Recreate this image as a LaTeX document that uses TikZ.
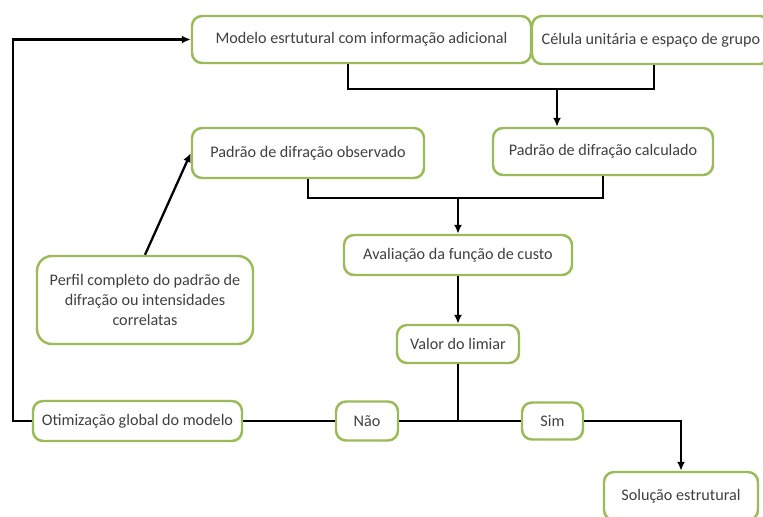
\documentclass[tikz,border=0pt]{standalone}
\usepackage{fontspec}
\setmainfont{Carlito}
\usepackage{xcolor}
\usetikzlibrary{arrows.meta,calc}

\definecolor{boxgreen}{HTML}{9BBB59}
\definecolor{txtgray}{HTML}{404040}

\begin{document}
\begin{tikzpicture}[
    every node/.style={font=\fontsize{9.2}{11.2}\selectfont, text=txtgray},
    box/.style={draw=boxgreen, line width=1.4pt, rounded corners=0.2cm, fill=white, align=center, inner sep=2pt},
    conn/.style={line width=1.3pt, black},
    arr/.style={conn, -{Latex[length=1.8mm,width=1.6mm]}}
  ]
    \useasboundingbox (0,0) rectangle (15.26,10.32);

    % linha de cima
    \node[box, minimum width=6.78cm, minimum height=0.94cm] (modelo) at (7.23,9.53) {Modelo esrtutural com informação adicional};
    \node[box, minimum width=4.76cm, minimum height=0.96cm] (celula) at (13.02,9.52) {Célula unitária e espaço de grupo};

    % padroes
    \node[box, minimum width=4.64cm, minimum height=1.0cm] (obs) at (6.16,7.26) {Padrão de difração observado};
    \node[box, minimum width=4.4cm, minimum height=0.94cm] (calc) at (12.06,7.29) {Padrão de difração calculado};

    \node[box, minimum width=4.56cm, minimum height=0.8cm] (aval) at (9.16,5.22) {Avaliação da função de custo};
    \node[box, rounded corners=0.3cm, minimum width=4.32cm, minimum height=1.76cm] (perfil) at (2.9,4.32) {Perfil completo do padrão de\\ difração ou intensidades\\ correlatas};
    \node[box, minimum width=2.44cm, minimum height=0.76cm] (valor) at (9.16,3.44) {Valor do limiar};

    % decisao
    \node[box, minimum width=4.18cm, minimum height=0.8cm] (otim) at (2.75,1.9) {Otimização global do modelo};
    \node[box, minimum width=1.24cm, minimum height=0.78cm] (nao) at (7.34,1.9) {Não};
    \node[box, minimum width=1.22cm, minimum height=0.74cm] (sim) at (11.05,1.9) {Sim};
    \node[box, minimum width=3.08cm, minimum height=0.96cm] (sol) at (13.62,0.40) {Solução estrutural};

    \coordinate (j1) at (11.14,8.54);
    \coordinate (j2) at (9.16,6.36);
    \coordinate (j3) at (9.16,1.9);
    \coordinate (ret) at (0.26,0);

    \draw[conn] ([xshift=-0.27cm]modelo.south) |- (j1) -| ([xshift=0.06cm]celula.south);
    \draw[arr] (j1) -- (j1 |- calc.north);
    \draw[conn] (obs.south) |- (j2) -| (calc.south);
    \draw[arr] (j2) -- (aval.north);
    \draw[arr] (aval.south) -- (valor.north);
    \draw[arr] (perfil.north) -- (obs.west);
    \draw[conn] (valor.south) -- (j3);
    \draw[conn] (nao.east) -- (sim.west);
    \draw[conn] (otim.east) -- (nao.west);
    \draw[arr] (sim.east) -| (sol.north);
    \draw[arr] (otim.west) -- (otim.west -| ret) |- (modelo.west);
\end{tikzpicture}
\end{document}
